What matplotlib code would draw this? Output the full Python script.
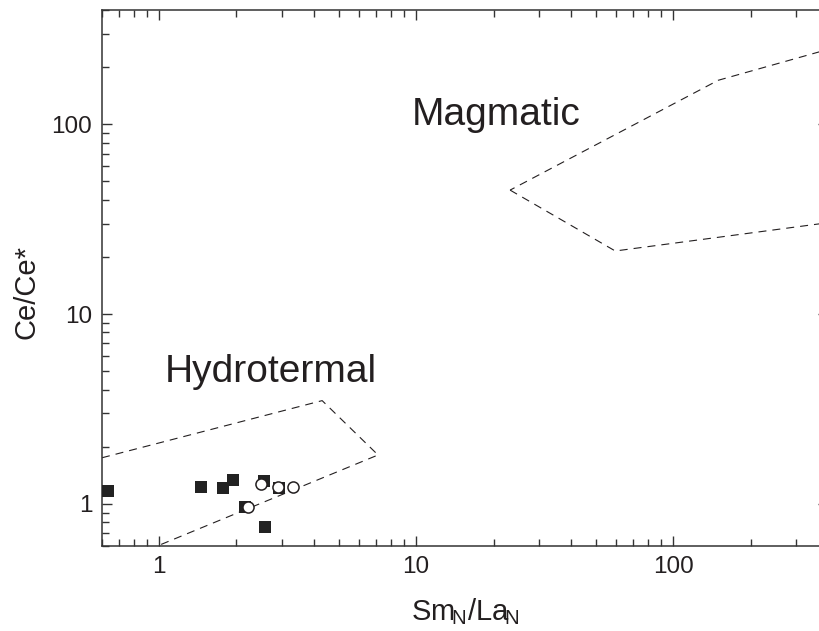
import matplotlib
matplotlib.use("Agg")
import matplotlib.pyplot as plt
from matplotlib.ticker import LogLocator, NullFormatter, FixedLocator, FixedFormatter

plt.rcParams['font.family'] = ['Liberation Sans', 'DejaVu Sans']
plt.rcParams['mathtext.fontset'] = 'custom'
plt.rcParams['mathtext.rm'] = 'Liberation Sans'

# samples (Sm_N/La_N, Ce/Ce*)
sq_x = [0.634, 1.46, 1.78, 1.935, 2.55, 2.93, 2.16, 2.58]
sq_y = [1.17, 1.23, 1.21, 1.34, 1.32, 1.21, 0.961, 0.754]
ci_x = [2.49, 2.90, 3.31, 2.21]
ci_y = [1.27, 1.22, 1.22, 0.961]

# field boundaries
hyd_x = [0.6, 4.31, 7.11, 0.6]
hyd_y = [1.75, 3.5, 1.81, 0.455]
mag_up_x = [400, 149.6, 23.2]
mag_up_y = [248, 170.5, 45]
mag_lo_x = [23.2, 59.5, 400]
mag_lo_y = [45, 21.5, 30.3]

x_ticks = [1, 10, 100]
x_tick_labels = ['1', '10', '100']
y_ticks = [1, 10, 100]
y_tick_labels = ['1', '10', '100']

ink = '#231f20'

fig = plt.figure(figsize=(8.19, 6.31), dpi=100)
ax = fig.add_axes([102 / 819, 85 / 631, 726 / 819, 536 / 631])
ax.set_xscale('log')
ax.set_yscale('log')
ax.set_xlim(0.6, 400)
ax.set_ylim(0.6, 400)

dash = (7.2, 5.4)
for xs, ys in [(hyd_x, hyd_y), (mag_up_x, mag_up_y), (mag_lo_x, mag_lo_y)]:
    ax.plot(xs, ys, color=ink, lw=0.8, linestyle=(0, dash), zorder=2)

ax.plot(sq_x, sq_y, 's', color='#222222', ms=8.6, mew=0, zorder=3, clip_on=False)
ax.plot(ci_x, ci_y, 'o', mfc='white', mec=ink, ms=8, mew=1.1, zorder=4)

ax.text(1.055, 4.39, 'Hydrotermal', fontsize=28, color=ink, ha='left', va='baseline')
ax.text(9.65, 98.8, 'Magmatic', fontsize=28, color=ink, ha='left', va='baseline')

ax.xaxis.set_major_locator(FixedLocator(x_ticks))
ax.xaxis.set_major_formatter(FixedFormatter(x_tick_labels))
ax.yaxis.set_major_locator(FixedLocator(y_ticks))
ax.yaxis.set_major_formatter(FixedFormatter(y_tick_labels))
ax.xaxis.set_minor_locator(LogLocator(base=10, subs=range(2, 10)))
ax.yaxis.set_minor_locator(LogLocator(base=10, subs=range(2, 10)))
ax.xaxis.set_minor_formatter(NullFormatter())
ax.yaxis.set_minor_formatter(NullFormatter())

ax.tick_params(which='both', direction='in', top=True, right=True,
               colors='#333333', labelcolor=ink, width=1.0)
ax.tick_params(which='major', length=7.2, labelsize=17.5, pad=7)
ax.tick_params(which='minor', length=5)
for s in ax.spines.values():
    s.set_linewidth(1.1)
    s.set_color('#333333')

ax.set_xlabel(r'Sm$_{\!\mathregular{N}}$/La$_{\!\mathregular{N}}$', fontsize=21, color=ink)
ax.set_ylabel('Ce/Ce*', fontsize=21, color=ink)
ax.xaxis.set_label_coords(0.5, -0.094)
ax.yaxis.set_label_coords(-0.085, 0.474)

fig.savefig('out.png', dpi=100)
